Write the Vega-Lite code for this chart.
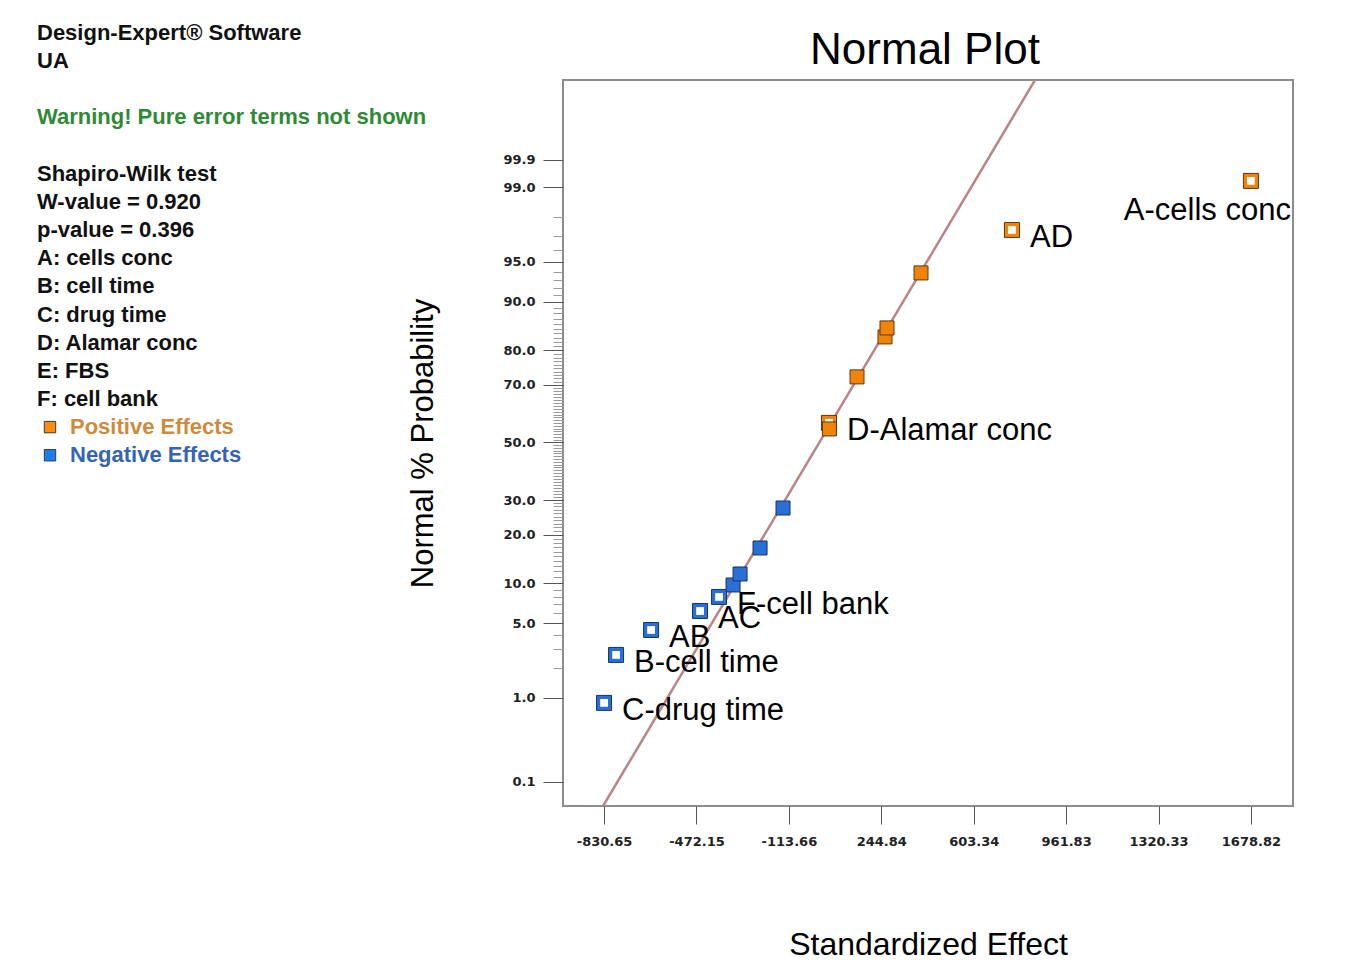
{
  "padding": {"left": 36, "top": 22, "right": 20, "bottom": 6},
  "autosize": {"type": "pad"},
  "background": "white",
  "config": {"view": {"stroke": null}, "font": "Liberation Sans"},
  "datasets": {
    "notes": [
      {"n": 0, "line": "Design-Expert® Software", "kind": "plain"},
      {"n": 1, "line": "UA", "kind": "plain"},
      {"n": 3, "line": "Warning! Pure error terms not shown", "kind": "warning"},
      {"n": 5, "line": "Shapiro-Wilk test", "kind": "plain"},
      {"n": 6, "line": "W-value = 0.920", "kind": "plain"},
      {"n": 7, "line": "p-value = 0.396", "kind": "plain"},
      {"n": 8, "line": "A: cells conc", "kind": "plain"},
      {"n": 9, "line": "B: cell time", "kind": "plain"},
      {"n": 10, "line": "C: drug time", "kind": "plain"},
      {"n": 11, "line": "D: Alamar conc", "kind": "plain"},
      {"n": 12, "line": "E: FBS", "kind": "plain"},
      {"n": 13, "line": "F: cell bank", "kind": "plain"},
      {"n": 14, "line": "Positive Effects", "kind": "positive"},
      {"n": 15, "line": "Negative Effects", "kind": "negative"}
    ],
    "effects": [
      {"label": "C-drug time", "effect": -830.65, "z": -2.372, "sign": "negative"},
      {"label": "B-cell time", "effect": -784.1, "z": -1.935, "sign": "negative"},
      {"label": "AB", "effect": -648.3, "z": -1.708, "sign": "negative"},
      {"label": "AC", "effect": -458.3, "z": -1.535, "sign": "negative"},
      {"label": "F-cell bank", "effect": -384.6, "z": -1.407, "sign": "negative"},
      {"label": "", "effect": -330.3, "z": -1.298, "sign": "negative"},
      {"label": "", "effect": -303.1, "z": -1.198, "sign": "negative"},
      {"label": "", "effect": -225.6, "z": -0.961, "sign": "negative"},
      {"label": "", "effect": -136.4, "z": -0.597, "sign": "negative"},
      {"label": "D-Alamar conc", "effect": 42.0, "z": 0.178, "sign": "positive"},
      {"label": "", "effect": 43.5, "z": 0.123, "sign": "positive"},
      {"label": "", "effect": 150.6, "z": 0.597, "sign": "positive"},
      {"label": "", "effect": 259.2, "z": 0.961, "sign": "positive"},
      {"label": "", "effect": 267.0, "z": 1.043, "sign": "positive"},
      {"label": "", "effect": 398.9, "z": 1.544, "sign": "positive"},
      {"label": "AD", "effect": 751.9, "z": 1.935, "sign": "positive"},
      {"label": "A-cells conc", "effect": 1678.82, "z": 2.382, "sign": "positive"}
    ],
    "fit": [
      {"effect": -834.5, "z": -3.311},
      {"effect": 841.0, "z": 3.301}
    ]
  },
  "bounds": "flush",
  "spacing": 525,
  "resolve": {"scale": {"color": "independent", "fill": "independent", "stroke": "independent"}},
  "hconcat": [
    {
      "width": 2,
      "height": 726,
      "data": {"name": "notes"},
      "layer": [
        {
          "transform": [{"filter": "datum.kind != 'positive' && datum.kind != 'negative'"}],
          "mark": {"type": "text", "align": "left", "baseline": "middle", "fontSize": 22, "fontWeight": "bold", "font": "Liberation Sans"},
          "encoding": {
            "y": {"field": "n", "type": "quantitative", "scale": {"domain": [1.6696, 27.46], "reverse": true, "nice": false, "zero": false}, "axis": null},
            "text": {"field": "line"},
            "color": {"field": "kind", "type": "nominal", "scale": {"domain": ["plain", "warning", "positive", "negative"], "range": ["#111111", "#2f8a35", "#cf8a3c", "#3464b4"]}, "legend": null}
          }
        },
        {
          "transform": [{"filter": "datum.kind == 'positive' || datum.kind == 'negative'"}],
          "mark": {"type": "text", "align": "left", "baseline": "middle", "fontSize": 22, "fontWeight": "bold", "font": "Liberation Sans", "dx": 33},
          "encoding": {
            "y": {"field": "n", "type": "quantitative", "scale": {"domain": [1.6696, 27.46], "reverse": true, "nice": false, "zero": false}, "axis": null},
            "text": {"field": "line"},
            "color": {"field": "kind", "type": "nominal", "scale": {"domain": ["plain", "warning", "positive", "negative"], "range": ["#111111", "#2f8a35", "#cf8a3c", "#3464b4"]}, "legend": null}
          }
        },
        {
          "transform": [{"filter": "datum.kind == 'positive' || datum.kind == 'negative'"}],
          "mark": {"type": "point", "shape": "square", "filled": true, "size": 130, "stroke": "#3a3a3a", "strokeWidth": 1, "opacity": 1},
          "encoding": {
            "y": {"field": "n", "type": "quantitative", "scale": {"domain": [1.6696, 27.46], "reverse": true, "nice": false, "zero": false}, "axis": null},
            "xOffset": {"value": 13},
            "fill": {"field": "kind", "type": "nominal", "scale": {"domain": ["positive", "negative"], "range": ["#ff8c0f", "#1a7ef0"]}, "legend": null}
          }
        }
      ]
    },
    {
      "width": 730,
      "height": 726,
      "view": {"stroke": "#8c8c8c", "strokeWidth": 2},
      "title": {"text": "Normal Plot", "fontSize": 44, "fontWeight": "normal", "font": "Liberation Sans", "color": "#000000", "anchor": "middle", "baseline": "alphabetic", "offset": -28, "dx": -3},
      "resolve": {"axis": {"y": "independent"}},
      "layer": [
        {
          "data": {"name": "fit"},
          "mark": {"type": "line", "color": "#b98585", "strokeWidth": 2.5, "clip": true},
          "encoding": {
            "x": {"field": "effect", "type": "quantitative", "scale": {"domain": [-990, 1842], "nice": false, "zero": false},
              "axis": {"values": [-830.65, -472.15, -113.66, 244.84, 603.34, 961.83, 1320.33, 1678.82], "labelExpr": "replace(format(datum.value, '.2f'), '\u2212', '-')", "labelFont": "DejaVu Sans", "labelFontSize": 13, "labelFontWeight": "bold", "labelColor": "#222222", "labelPadding": 11, "tickSize": 18, "tickColor": "#555555", "tickWidth": 1, "domain": false, "grid": false, "labelFlush": false, "labelOverlap": false, "title": "Standardized Effect", "titleFont": "Liberation Sans", "titleFontSize": 32, "titleFontWeight": "normal", "titleColor": "#000000", "titlePadding": 81}},
            "y": {"field": "z", "type": "quantitative", "scale": {"domain": [-3.311, 3.301], "nice": false, "zero": false},
              "axis": {"orient": "left", "values": [-2.0537, -1.8808, -1.7507, -1.5548, -1.4758, -1.4051, -1.3408, -1.2265, -1.175, -1.1264, -1.0803, -1.0364, -0.9945, -0.9542, -0.9154, -0.8779, -0.8064, -0.7722, -0.7388, -0.7063, -0.6745, -0.6433, -0.6128, -0.5828, -0.5534, -0.4959, -0.4677, -0.4399, -0.4125, -0.3853, -0.3585, -0.3319, -0.3055, -0.2793, -0.2533, -0.2275, -0.2019, -0.1764, -0.151, -0.1257, -0.1004, -0.0753, -0.0502, -0.0251, 0.0251, 0.0502, 0.0753, 0.1004, 0.1257, 0.151, 0.1764, 0.2019, 0.2275, 0.2533, 0.2793, 0.3055, 0.3319, 0.3585, 0.3853, 0.4125, 0.4399, 0.4677, 0.4959, 0.5534, 0.5828, 0.6128, 0.6433, 0.6745, 0.7063, 0.7388, 0.7722, 0.8064, 0.8779, 0.9154, 0.9542, 0.9945, 1.0364, 1.0803, 1.1264, 1.175, 1.2265, 1.3408, 1.4051, 1.4758, 1.5548, 1.7507, 1.8808, 2.0537], "labels": false, "domain": false, "grid": false, "ticks": true, "tickSize": 10, "tickColor": "#9a9a9a", "tickWidth": 1, "title": null}}
          }
        },
        {
          "data": {"name": "effects"},
          "transform": [{"filter": "datum.label != ''"}],
          "mark": {"type": "point", "shape": "square", "filled": true, "size": 225, "strokeWidth": 1, "opacity": 1},
          "encoding": {
            "x": {"field": "effect", "type": "quantitative", "scale": {"domain": [-990, 1842], "nice": false, "zero": false}},
            "y": {"field": "z", "type": "quantitative", "scale": {"domain": [-3.311, 3.301], "nice": false, "zero": false},
              "axis": {"orient": "left", "values": [-3.0902, -2.3263, -1.6449, -1.2816, -0.8416, -0.5244, 0, 0.5244, 0.8416, 1.2816, 1.6449, 2.3263, 2.5758], "labelExpr": "['0.1','1.0','5.0','10.0','20.0','30.0','50.0','70.0','80.0','90.0','95.0','99.0','99.9'][indexof([-3.0902, -2.3263, -1.6449, -1.2816, -0.8416, -0.5244, 0, 0.5244, 0.8416, 1.2816, 1.6449, 2.3263, 2.5758], datum.value)]", "labelFont": "DejaVu Sans", "labelFontSize": 13, "labelFontWeight": "bold", "labelColor": "#222222", "labelPadding": 8, "tickSize": 20, "tickColor": "#555555", "tickWidth": 1, "domain": false, "grid": false, "labelOverlap": false, "labelFlush": false, "title": "Normal % Probability", "titleFont": "Liberation Sans", "titleFontSize": 31, "titleFontWeight": "normal", "titleColor": "#000000", "titlePadding": 63}},
            "fill": {"field": "sign", "type": "nominal", "scale": {"domain": ["positive", "negative"], "range": ["#f0830c", "#2a6fd6"]}, "legend": null},
            "stroke": {"field": "sign", "type": "nominal", "scale": {"domain": ["positive", "negative"], "range": ["#5c3a0a", "#163266"]}, "legend": null}
          }
        },
        {
          "data": {"name": "effects"},
          "transform": [{"filter": "datum.label != ''"}],
          "mark": {"type": "point", "shape": "square", "filled": true, "size": 60, "color": "#ffffff", "opacity": 1},
          "encoding": {
            "x": {"field": "effect", "type": "quantitative", "scale": {"domain": [-990, 1842], "nice": false, "zero": false}},
            "y": {"field": "z", "type": "quantitative", "scale": {"domain": [-3.311, 3.301], "nice": false, "zero": false}, "axis": null}
          }
        },
        {
          "data": {"name": "effects"},
          "transform": [{"filter": "datum.label == ''"}],
          "mark": {"type": "point", "shape": "square", "filled": true, "size": 196, "strokeWidth": 1, "opacity": 1},
          "encoding": {
            "x": {"field": "effect", "type": "quantitative", "scale": {"domain": [-990, 1842], "nice": false, "zero": false}},
            "y": {"field": "z", "type": "quantitative", "scale": {"domain": [-3.311, 3.301], "nice": false, "zero": false}, "axis": null},
            "fill": {"field": "sign", "type": "nominal", "scale": {"domain": ["positive", "negative"], "range": ["#ff8c0f", "#1a7ef0"]}, "legend": null},
            "stroke": {"field": "sign", "type": "nominal", "scale": {"domain": ["positive", "negative"], "range": ["#5c3a0a", "#163266"]}, "legend": null}
          }
        },
        {
          "data": {"name": "effects"},
          "transform": [{"filter": "datum.label != '' && datum.label != 'A-cells conc'"}],
          "mark": {"type": "text", "align": "left", "baseline": "middle", "dx": 18, "dy": 8, "fontSize": 31, "font": "Liberation Sans", "color": "#000000"},
          "encoding": {
            "x": {"field": "effect", "type": "quantitative", "scale": {"domain": [-990, 1842], "nice": false, "zero": false}},
            "y": {"field": "z", "type": "quantitative", "scale": {"domain": [-3.311, 3.301], "nice": false, "zero": false}, "axis": null},
            "text": {"field": "label"}
          }
        },
        {
          "data": {"name": "effects"},
          "transform": [{"filter": "datum.label == 'A-cells conc'"}],
          "mark": {"type": "text", "align": "right", "baseline": "middle", "dx": 40, "dy": 30, "fontSize": 31, "font": "Liberation Sans", "color": "#000000"},
          "encoding": {
            "x": {"field": "effect", "type": "quantitative", "scale": {"domain": [-990, 1842], "nice": false, "zero": false}},
            "y": {"field": "z", "type": "quantitative", "scale": {"domain": [-3.311, 3.301], "nice": false, "zero": false}, "axis": null},
            "text": {"field": "label"}
          }
        }
      ]
    }
  ]
}
